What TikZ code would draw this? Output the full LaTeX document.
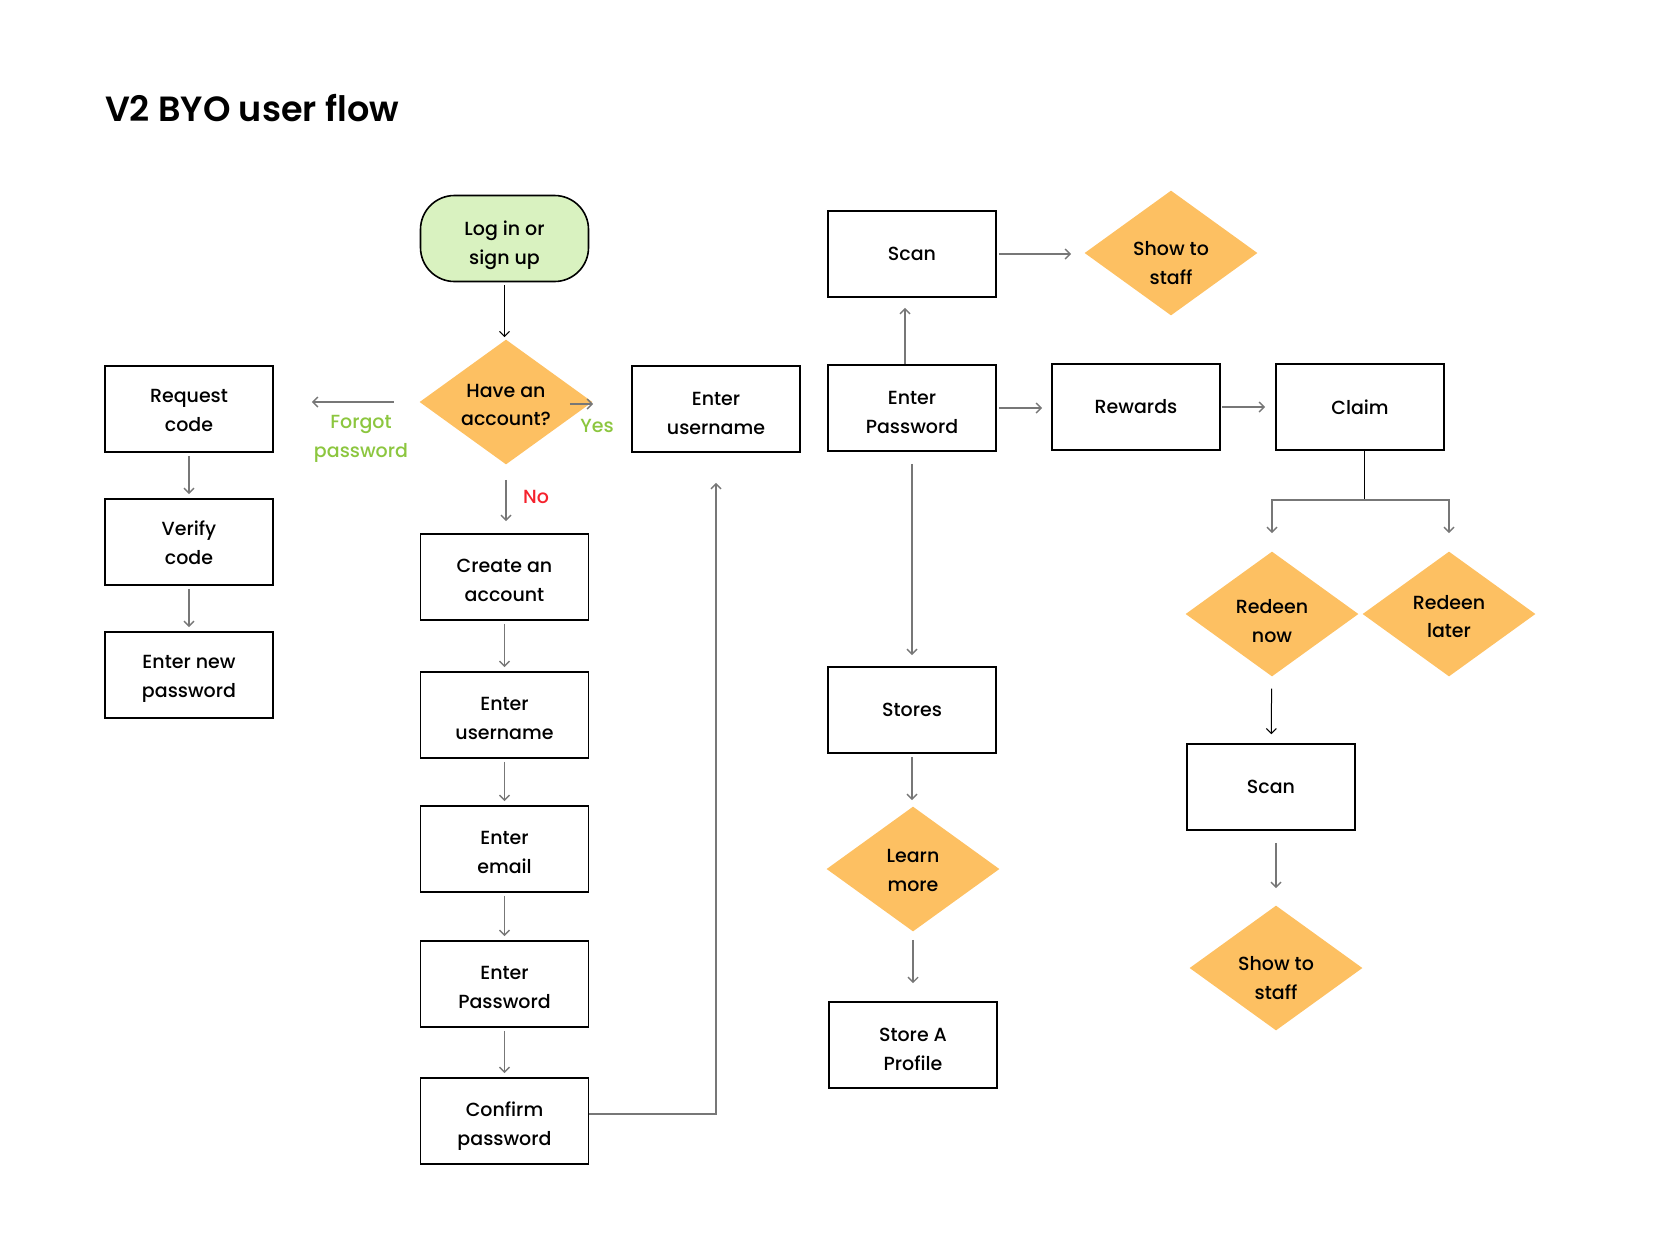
\documentclass[tikz,border=0pt]{standalone}
\usepackage{fontspec}
\setmainfont{Poppins}[UprightFont = * Medium, BoldFont = * SemiBold]
\usetikzlibrary{shapes.geometric, arrows.meta}

\definecolor{deccol}{HTML}{FDC062}
\definecolor{startcol}{HTML}{D9F2C0}
\definecolor{yescol}{HTML}{8CC63F}
\definecolor{nocol}{HTML}{F5222D}
\definecolor{linecol}{HTML}{777777}

\begin{document}
\begin{tikzpicture}[> = {Straight Barb[length = 2.5pt, width = 5pt]}, x = 0.5pt, y = -0.5pt,
	every node/.style = {font = \fontsize{9.5}{14.3}\selectfont, align = center},
	plainbox/.style = {draw, line width = 0.8pt, minimum width = 84pt, minimum height = 43pt, inner sep = 0pt},
	stepbox/.style = {plainbox, text height = #1, text depth = 2pt},
	stepbox/.default = 26pt,
	startbox/.style = {stepbox = 28pt, fill = startcol, rounded corners = 17pt},
	decision/.style = {diamond, fill = deccol, minimum width = 86.5pt, minimum height = 62.5pt, inner sep = -5pt,
		text height = #1, text depth = -14pt},
	decision/.default = 22.1pt,
	flow/.style = {->, linecol, line width = 0.7pt},
	darkflow/.style = {->, black, line width = 0.5pt}]

\useasboundingbox (0, 0) rectangle (1654, 1233);

% Title

\node [anchor = west, font = \fontsize{17.5}{21}\selectfont\bfseries] (title) at (98, 108) {V2 BYO user flow};

% Login and decision

\node [startbox] (start) at (504.5, 238.5) {Log in or\\sign up};
\node [decision = 23.8pt] (dia) at (506, 402) {Have an\\account?};

\node [text = yescol] (forgot) at (361, 439) {Forgot\\password};
\node [text = yescol] (yes) at (597, 426) {Yes};
\node [text = nocol] (no) at (536, 497) {No};

% Forgot password column

\node [stepbox = 24.5pt] (req) at (189, 409) {Request\\code};
\node [stepbox = 24.5pt] (verify) at (189, 542) {Verify\\code};
\node [stepbox = 24.5pt] (newpw) at (189, 675) {Enter new\\password};

% Sign up column

\node [stepbox] (create) at (504.5, 577) {Create an\\account};
\node [stepbox] (usr) at (504.5, 715) {Enter\\username};
\node [stepbox] (email) at (504.5, 849) {Enter\\email};
\node [stepbox] (pw) at (504.5, 984) {Enter\\Password};
\node [stepbox] (confirm) at (504.5, 1121) {Confirm\\password};

% Log in

\node [stepbox = 27pt] (usr2) at (716, 409) {Enter\\username};
\node [stepbox = 27pt] (pw2) at (912, 408) {Enter\\Password};
\node [plainbox] (scan) at (912, 254) {Scan};
\node [decision = 31.1pt] (show) at (1171, 253) {Show to\\staff};

% Stores

\node [plainbox] (stores) at (912, 710) {Stores};
\node [decision] (learn) at (913, 869) {Learn\\more};
\node [stepbox = 27pt] (storeA) at (913, 1045) {Store A\\Profile};

% Rewards

\node [plainbox] (rew) at (1136, 407) {Rewards};
\node [plainbox] (claim) at (1360, 407) {Claim};
\node [decision = 28.5pt] (now) at (1272, 614) {Redeen\\now};
\node [decision = 23.7pt] (later) at (1449, 614) {Redeen\\later};
\node [plainbox] (scan3) at (1271, 787) {Scan};
\node [decision = 31.1pt] (show2) at (1276, 968) {Show to\\staff};

% Connectors from the decision

\draw [darkflow, shorten <= 1.5pt, shorten >= 1pt] (start.south) -- (start.south |- dia.north);
\draw [flow, shorten <= 12.75pt, shorten >= 19pt] (dia.west) -- (dia.west -| req.east);
\draw [flow, shorten >= 7.5pt] ([xshift = -11.5pt, yshift = -1pt] dia.east) -- ([xshift = -11.5pt, yshift = -1pt] dia.east -| usr2.west);
\draw [flow, shorten <= 7.5pt, shorten >= 6pt] (dia.south) -- (dia.south |- create.north);

% Column steps

\foreach \a/\b in {req/verify, verify/newpw, create/usr, usr/email, email/pw, pw/confirm}
	\draw [flow, shorten <= 1.5pt, shorten >= 2pt] (\a) -- (\b);

\draw [flow, shorten >= 15pt] ([yshift = 3.5pt] confirm.east) -| (usr2.south);

% Log in branch

\draw [flow, shorten >= 5pt] ([xshift = -3.5pt] pw2.north) -- ([xshift = -3.5pt] scan.south);
\draw [flow, shorten <= 1pt, shorten >= 6.5pt] (scan.east) -- (scan.east -| show.west);
\draw [flow, shorten <= 1pt, shorten >= 4.5pt] (pw2.east) -- (pw2.east -| rew.west);
\draw [flow, shorten <= 0.5pt, shorten >= 5pt] (rew.east) -- (rew.east -| claim.west);
\draw [flow, shorten <= 6pt, shorten >= 5.5pt] (pw2) -- (stores);
\draw [flow, shorten <= 1.5pt, shorten >= 3pt] (stores.south) -- (stores.south |- learn.north);
\draw [flow, shorten <= 4pt, shorten >= 9pt] (learn) -- (storeA);

% Claim fork

\draw [darkflow, -] ([xshift = 2pt] claim.south) -- ++(0, 49) coordinate (fork);
\draw [flow, shorten >= 9pt] (fork) -| (now.north);
\draw [flow, shorten >= 9pt] (fork) -| (later.north);
\draw [darkflow, shorten <= 6pt, shorten >= 4.5pt] (now) -- (scan3);
\draw [flow, shorten <= 6pt, shorten >= 8.5pt] (scan3.south -| show2) -- (show2.north);

\end{tikzpicture}
\end{document}
